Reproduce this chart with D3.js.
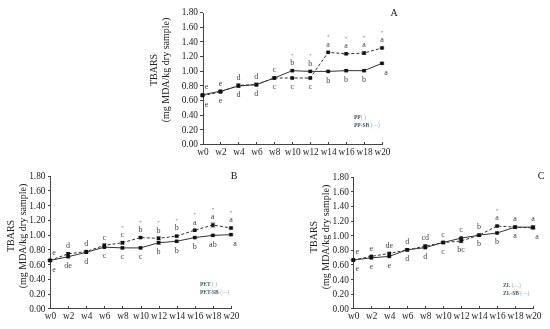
<!DOCTYPE html>
<html>
<head>
<meta charset="utf-8">
<script src="https://cdn.jsdelivr.net/npm/d3@7"></script>
<style>
  body { margin: 0; background: #fff; }
  svg { display: block; font-family: "Liberation Serif", "Times New Roman", serif; }
  .axis path, .axis line { stroke: #444; shape-rendering: crispEdges; }
  .axis text { fill: #222; font-size: 9.3px; font-family: "Liberation Serif", serif; }
</style>
</head>
<body>
<div id="chart"></div>
<script>
// weeks of storage
var weeks = ["w0", "w2", "w4", "w6", "w8", "w10", "w12", "w14", "w16", "w18", "w20"];
var yTicks = [0, 0.2, 0.4, 0.6, 0.8, 1.0, 1.2, 1.4, 1.6, 1.8];

// panel A - PP
var ppVals   = [0.66, 0.71, 0.80, 0.81, 0.90, 0.90, 0.90, 1.25, 1.23, 1.24, 1.31];
var ppSbVals = [0.67, 0.72, 0.79, 0.81, 0.90, 1.00, 0.99, 0.99, 1.00, 1.00, 1.10];
var ppErr    = [0.01, 0.01, 0.02, 0.02, 0.01, 0.01, 0.01, 0.01, 0.01, 0.02, 0.01];
var ppSbErr  = [0.01, 0.01, 0.01, 0.01, 0.01, 0.01, 0.01, 0.01, 0.01, 0.01, 0.01];
var ppTop    = ["e", "e", "d", "d", "c", "b", "b", "a", "a", "a", "a"];
var ppLow    = ["e", "e", "d", "d", "c", "c", "c", "b", "b", "b", "a"];
var ppStar   = [0, 0, 0, 0, 0, 1, 1, 1, 1, 1, 1];

// panel B - PET
var petVals   = [0.65, 0.74, 0.77, 0.855, 0.89, 0.96, 0.95, 0.98, 1.06, 1.13, 1.09];
var petSbVals = [0.65, 0.70, 0.76, 0.83, 0.82, 0.82, 0.89, 0.91, 0.96, 0.99, 1.00];
var petErr    = [0.01, 0.02, 0.01, 0.02, 0.02, 0.01, 0.02, 0.01, 0.01, 0.03, 0.01];
var petSbErr  = [0.01, 0.01, 0.01, 0.01, 0.01, 0.01, 0.02, 0.01, 0.01, 0.01, 0.01];
var petTop    = ["e", "d", "d", "c", "c", "b", "b", "b", "a", "a", "a"];
var petLow    = ["e", "de", "d", "c", "c", "c", "b", "b", "b", "ab", "a"];
var petStar   = [0, 0, 0, 0, 1, 1, 1, 1, 1, 1, 1];

// panel C - ZL
var zlVals   = [0.66, 0.71, 0.75, 0.80, 0.85, 0.90, 0.92, 1.00, 1.125, 1.11, 1.10];
var zlSbVals = [0.66, 0.69, 0.71, 0.80, 0.83, 0.90, 0.96, 1.00, 1.03, 1.11, 1.11];
var zlErr    = [0.01, 0.01, 0.01, 0.01, 0.02, 0.01, 0.02, 0.01, 0.01, 0.01, 0.01];
var zlSbErr  = [0.01, 0.01, 0.01, 0.01, 0.01, 0.01, 0.01, 0.01, 0.01, 0.01, 0.02];
var zlTop    = ["e", "e", "de", "d", "cd", "c", "c", "b", "a", "a", "a"];
var zlLow    = ["e", "e", "e", "d", "d", "c", "bc", "b", "b", "a", "a"];
var zlStar   = [0, 0, 0, 0, 0, 0, 0, 0, 1, 0, 0];

var svg = d3.select("#chart")
    .append("svg")
    .attr("width", 550)
    .attr("height", 329);

// grayscale filter so the small text gets no colour fringes
svg.append("defs").append("filter")
    .attr("id", "gray")
    .attr("x", 0).attr("y", 0).attr("width", 1).attr("height", 1)
    .append("feColorMatrix")
    .attr("type", "saturate")
    .attr("values", 0);

function drawPanel(p) {
    var x = d3.scalePoint().domain(weeks).range([p.x0, p.x1]);
    var y = d3.scaleLinear().domain([0, 1.8]).range([p.yBot, p.yTop]);
    var g = svg.append("g").attr("filter", "url(#gray)");

    // axes
    g.append("g")
        .attr("class", "axis")
        .attr("transform", `translate(${p.x0},0)`)
        .call(d3.axisLeft(y).tickValues(yTicks).tickFormat(d3.format(".2f"))
            .tickSizeInner(2.5).tickSizeOuter(0).tickPadding(2));

    g.append("g")
        .attr("class", "axis")
        .attr("transform", `translate(0,${p.yBot})`)
        .call(d3.axisBottom(x).tickSizeInner(-2).tickSizeOuter(0).tickPadding(4.5));

    // y label
    var lab = g.append("text")
        .attr("transform", `translate(${p.labX},${p.labY}) rotate(-90)`)
        .attr("text-anchor", "middle")
        .attr("font-size", "10px")
        .attr("fill", "#222");
    lab.append("tspan").attr("x", 0).attr("y", 0).attr("dy", "0.35em").text("TBARS");
    lab.append("tspan").attr("x", 0).attr("y", 12).attr("dy", "0.35em").text("(mg MDA/kg dry sample)");

    // panel letter
    g.append("text")
        .attr("x", p.tX).attr("y", p.tY)
        .attr("dy", "0.35em")
        .attr("text-anchor", "middle")
        .attr("font-size", "10px")
        .attr("fill", "#111")
        .text(p.title);

    var series = [
        {vals: p.a, err: p.aErr, dash: "3,2"},
        {vals: p.b, err: p.bErr, dash: null}
    ];

    series.forEach(function(s) {
        var line = d3.line()
            .x(function(d, i) { return x(weeks[i]); })
            .y(function(d) { return y(d); });

        g.append("path")
            .datum(s.vals)
            .attr("d", line)
            .attr("fill", "none")
            .attr("stroke", "#333")
            .attr("stroke-width", 1)
            .attr("stroke-dasharray", s.dash);

        // error bars
        g.selectAll(null)
            .data(s.vals)
            .enter()
            .append("path")
            .attr("d", function(d, i) {
                var cx = x(weeks[i]), y1 = y(d + s.err[i]), y2 = y(d - s.err[i]);
                return `M${cx - 2.5},${y1}H${cx + 2.5}M${cx},${y1}V${y2}M${cx - 2.5},${y2}H${cx + 2.5}`;
            })
            .attr("stroke", "#666")
            .attr("stroke-width", 0.6)
            .attr("fill", "none");

        g.selectAll(null)
            .data(s.vals)
            .enter()
            .append("rect")
            .attr("x", function(d, i) { return x(weeks[i]) - 1.75; })
            .attr("y", function(d) { return y(d) - 1.75; })
            .attr("width", 3.5)
            .attr("height", 3.5)
            .attr("fill", "#111");
    });

    // significance letters
    weeks.forEach(function(w, i) {
        var hi = y(Math.max(p.a[i], p.b[i]));
        var lo = y(Math.min(p.a[i], p.b[i]));
        var dx = i === 0 ? 4 : 0;
        g.append("text")
            .attr("x", x(w) + dx).attr("y", hi - 8.5)
            .attr("dy", "0.35em")
            .attr("text-anchor", "middle")
            .attr("font-size", "8px")
            .attr("fill", "#444")
            .text(p.top[i]);
        g.append("text")
            .attr("x", x(w) + dx + (i === weeks.length - 1 ? 4 : 0)).attr("y", lo + 8.5)
            .attr("dy", "0.35em")
            .attr("text-anchor", "middle")
            .attr("font-size", "8px")
            .attr("fill", "#444")
            .text(p.low[i]);
        if (p.star[i]) {
            g.append("text")
                .attr("x", x(w)).attr("y", hi - 17)
                .attr("dy", "0.6em")
                .attr("text-anchor", "middle")
                .attr("font-size", "5px")
                .attr("fill", "#555")
                .text("*");
        }
    });

    // legend (tiny)
    var leg = svg.append("g").attr("font-size", "5.5px").attr("font-weight", "bold");
    var l1 = leg.append("text").attr("x", p.legX).attr("y", p.legY);
    l1.append("tspan").attr("fill", "#3f5a6b").text(p.names[0]);
    l1.append("tspan").attr("fill", "#9aa6b0").attr("font-weight", "normal").text(p.syms[0]);
    var l2 = leg.append("text").attr("x", p.legX).attr("y", p.legY + 8);
    l2.append("tspan").attr("fill", "#3f5a6b").text(p.names[1]);
    l2.append("tspan").attr("fill", "#9aa6b0").attr("font-weight", "normal").text(" (\u2014)");
}

drawPanel({
    x0: 202.5, x1: 382, yBot: 144, yTop: 12,
    labX: 153, labY: 70, tX: 394, tY: 12, title: "A",
    a: ppVals, aErr: ppErr, b: ppSbVals, bErr: ppSbErr,
    top: ppTop, low: ppLow, star: ppStar,
    legX: 354, legY: 119, names: ["PP", "PP-SB"], syms: ["(  )", ""]
});

drawPanel({
    x0: 50, x1: 231, yBot: 308.3, yTop: 175.7,
    labX: 10, labY: 236, tX: 234, tY: 175, title: "B",
    a: petVals, aErr: petErr, b: petSbVals, bErr: petSbErr,
    top: petTop, low: petLow, star: petStar,
    legX: 200, legY: 286, names: ["PET", "PET-SB"], syms: [" (  )", ""]
});

drawPanel({
    x0: 353.3, x1: 533, yBot: 308.3, yTop: 176.7,
    labX: 313, labY: 237, tX: 541, tY: 175, title: "C",
    a: zlVals, aErr: zlErr, b: zlSbVals, bErr: zlSbErr,
    top: zlTop, low: zlLow, star: zlStar,
    legX: 503, legY: 287, names: ["ZL", "ZL-SB"], syms: [" (....)", ""]
});
</script>
</body>
</html>
